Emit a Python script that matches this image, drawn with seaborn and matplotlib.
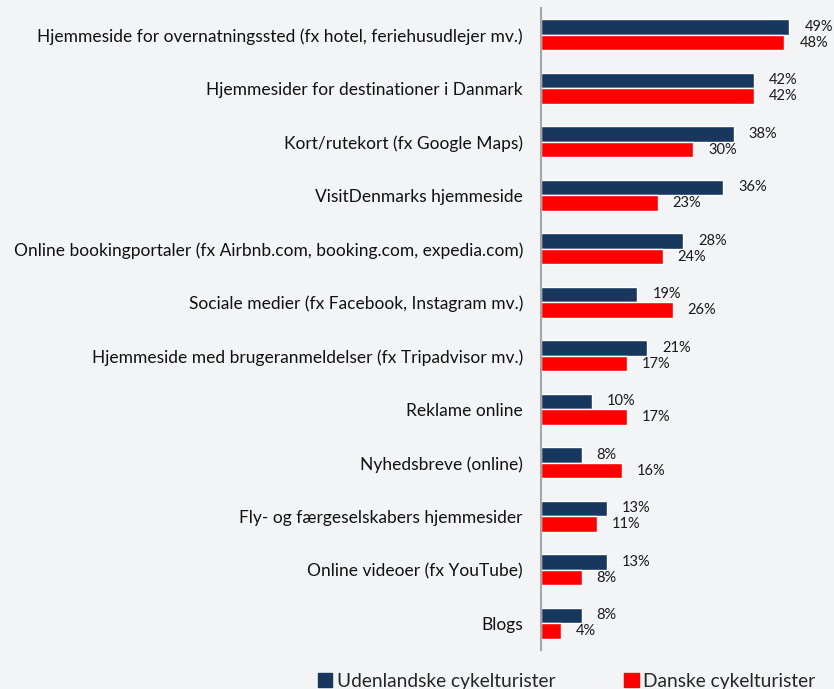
import pandas as pd
import matplotlib.pyplot as plt
import seaborn as sns
from matplotlib.patches import Patch

## Data
categories = [
    'Hjemmeside for overnatningssted (fx hotel, feriehusudlejer mv.)',
    'Hjemmesider for destinationer i Danmark',
    'Kort/rutekort (fx Google Maps)',
    'VisitDenmarks hjemmeside',
    'Online bookingportaler (fx Airbnb.com, booking.com, expedia.com)',
    'Sociale medier (fx Facebook, Instagram mv.)',
    'Hjemmeside med brugeranmeldelser (fx Tripadvisor mv.)',
    'Reklame online',
    'Nyhedsbreve (online)',
    'Fly- og færgeselskabers hjemmesider',
    'Online videoer (fx YouTube)',
    'Blogs',
]
udenlandske = [49, 42, 38, 36, 28, 19, 21, 10, 8, 13, 13, 8]
danske = [48, 42, 30, 23, 24, 26, 17, 17, 16, 11, 8, 4]
series = ['Udenlandske cykelturister', 'Danske cykelturister']

df = pd.DataFrame({'Kategori': categories * 2,
                   'Andel': udenlandske + danske,
                   'Gruppe': [series[0]] * len(categories) + [series[1]] * len(categories)})

ColorDef = {series[0]: '#17375E', series[1]: '#FF0000'}
bg = '#F3F4F6'

sns.set_style('white')
plt.rcParams['font.family'] = ['Lato', 'DejaVu Sans']

fig = plt.figure(figsize=(8.34, 6.89), dpi=100, facecolor=bg)
ax = fig.add_axes([541/834, 1-650/689, 1-541/834, 642/689])
ax.set_facecolor(bg)

sns.barplot(data=df, y='Kategori', x='Andel', hue='Gruppe', palette=ColorDef,
            orient='h', width=0.58, gap=0, ax=ax, legend=False, saturation=1)

# value labels
for cont in ax.containers:
    for bar in cont:
        w = bar.get_width()
        ax.annotate(f'{w:.0f}%', (w, bar.get_y() + bar.get_height()/2),
                    xytext=(15, 0), textcoords='offset pixels',
                    va='center', ha='left', fontsize=10.5, color='#1A1A1A')

ax.set_xlim(0, 57.8)
ax.set_ylim(11.5, -0.5)
ax.set_xlabel('')
ax.set_ylabel('')
ax.set_xticks([])
ax.tick_params(axis='y', length=0, pad=13, labelsize=12.5, labelcolor='#111111')
for s in ['top', 'right', 'bottom']:
    ax.spines[s].set_visible(False)
ax.spines['left'].set_color('#A6A6A6')
ax.spines['left'].set_linewidth(1.5)

handles = [Patch(color=ColorDef[s]) for s in series]
fig.legend(handles, series, loc='center left', bbox_to_anchor=(310/834, 1-681/689),
           ncol=2, frameon=False, fontsize=13.8, handlelength=0.75, handleheight=0.75,
           handletextpad=0.25, columnspacing=3.6, borderaxespad=0)

plt.savefig('out.png', dpi=100, facecolor=bg)
